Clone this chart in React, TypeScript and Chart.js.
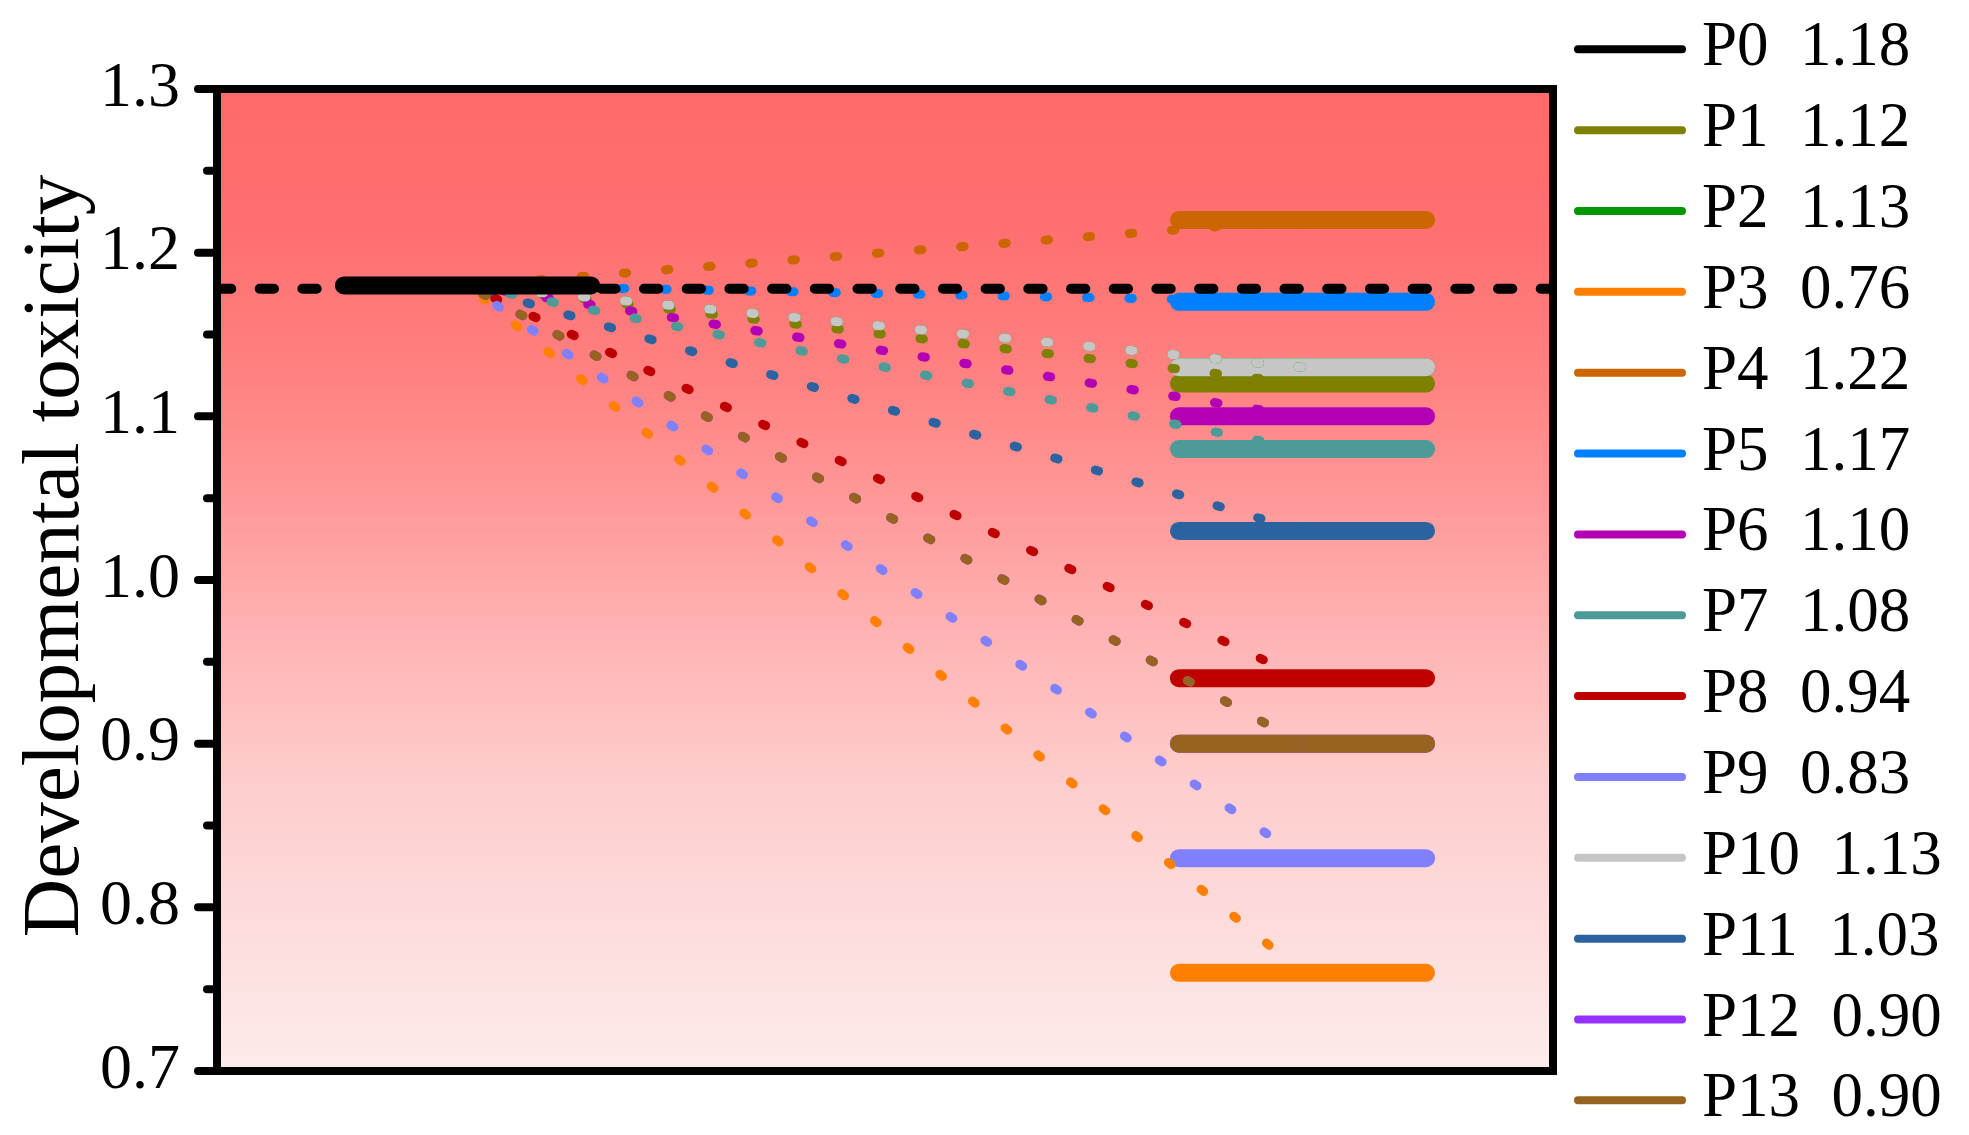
import React, { useEffect, useRef } from 'react';
import { Chart, registerables } from 'chart.js';

Chart.register(...registerables);

// ---------------- data ----------------
const seriesNames = ['P0', 'P1', 'P2', 'P3', 'P4', 'P5', 'P6', 'P7', 'P8', 'P9', 'P10', 'P11', 'P12', 'P13'];
const seriesValues = [1.18, 1.12, 1.13, 0.76, 1.22, 1.17, 1.10, 1.08, 0.94, 0.83, 1.13, 1.03, 0.90, 0.90];
const seriesColors = [
  '#000000', '#808000', '#009600', '#FF8000', '#CC6600', '#0080FF', '#B400B4',
  '#4D9B98', '#BE0000', '#8080FF', '#C6C6C6', '#2B63A0', '#9632FF', '#966420',
];
// stage 1 = parent compound (P0), stage 2 = derivatives (P1..P13)
const stagePositions = [1, 2];
const referenceLevel = 1.178;
const yMin = 0.7;
const yMax = 1.3;
const yStep = 0.1;
const yTitle = 'Developmental toxicity';

// ---------------- style ----------------
const FONT = '"Liberation Serif", "Times New Roman", serif';
const BAR_HALF = 0.148;
const X_MIN = 0.7;
const X_MAX = 2.3;

function buildDatasets() {
  const seq: any[] = [];
  const v0 = seriesValues[0];
  // derivative level bars
  for (let i = 1; i < seriesValues.length; i++) {
    seq.push({
      label: seriesNames[i] + ' bar',
      data: [
        { x: stagePositions[1] - BAR_HALF, y: seriesValues[i] },
        { x: stagePositions[1] + BAR_HALF, y: seriesValues[i] },
      ],
      borderColor: seriesColors[i],
      borderWidth: 18,
      borderCapStyle: 'round',
    });
  }
  // dotted connectors
  for (let i = 1; i < seriesValues.length; i++) {
    seq.push({
      label: seriesNames[i] + ' link',
      data: [
        { x: stagePositions[1], y: seriesValues[i] },
        { x: stagePositions[0], y: v0 },
      ],
      borderColor: seriesColors[i],
      borderWidth: 9,
      borderCapStyle: 'round',
      borderDash: [3.5, 38.8],
      borderDashOffset: -1,
    });
  }
  // parent bar
  seq.push({
    label: seriesNames[0] + ' bar',
    data: [
      { x: stagePositions[0] - BAR_HALF, y: v0 },
      { x: stagePositions[0] + BAR_HALF, y: v0 },
    ],
    borderColor: seriesColors[0],
    borderWidth: 18,
    borderCapStyle: 'round',
  });
  // reference dashed line
  seq.push({
    label: 'reference',
    data: [
      { x: X_MIN, y: referenceLevel },
      { x: X_MAX, y: referenceLevel },
    ],
    borderColor: '#000000',
    borderWidth: 10,
    borderCapStyle: 'round',
    borderDash: [14.3, 28.4],
  });
  const n = seq.length;
  return seq.map((d, k) => ({
    ...d,
    type: 'line',
    order: n - k,
    pointRadius: 0,
    pointHoverRadius: 0,
    tension: 0,
    fill: false,
  }));
}

const decorPlugin = {
  id: 'decor',
  beforeDraw(chart: any) {
    const { ctx, width, height } = chart;
    ctx.save();
    ctx.fillStyle = '#ffffff';
    ctx.fillRect(0, 0, width, height);
    ctx.restore();
  },
  beforeDatasetsDraw(chart: any) {
    const { ctx, chartArea } = chart;
    const { left, top, right, bottom } = chartArea;
    const g = ctx.createLinearGradient(0, top, 0, bottom);
    g.addColorStop(0.0, 'rgb(255,106,106)');
    g.addColorStop(0.15, 'rgb(255,112,112)');
    g.addColorStop(0.3, 'rgb(255,130,130)');
    g.addColorStop(0.45, 'rgb(255,158,158)');
    g.addColorStop(0.55, 'rgb(255,178,178)');
    g.addColorStop(0.7, 'rgb(254,204,204)');
    g.addColorStop(0.85, 'rgb(253,220,220)');
    g.addColorStop(1.0, 'rgb(253,235,235)');
    ctx.save();
    ctx.fillStyle = g;
    ctx.fillRect(left, top, right - left, bottom - top);
    ctx.restore();
  },
  afterDatasetsDraw(chart: any) {
    const { ctx, chartArea } = chart;
    const { left, top, right, bottom } = chartArea;
    const yScale = chart.scales.y;
    ctx.save();
    ctx.strokeStyle = '#000';
    ctx.lineWidth = 8;
    ctx.lineJoin = 'miter';
    ctx.strokeRect(left, top, right - left, bottom - top);
    // major and minor ticks
    ctx.lineCap = 'round';
    const ticks = yScale.ticks.map((t: any) => t.value);
    ticks.forEach((v: number) => {
      const y = yScale.getPixelForValue(v);
      ctx.beginPath();
      ctx.moveTo(left - 19, y);
      ctx.lineTo(left, y);
      ctx.stroke();
    });
    for (let i = 0; i < ticks.length - 1; i++) {
      const y = yScale.getPixelForValue((ticks[i] + ticks[i + 1]) / 2);
      ctx.beginPath();
      ctx.moveTo(left - 10, y);
      ctx.lineTo(left, y);
      ctx.stroke();
    }
    ctx.restore();
  },
  afterDraw(chart: any) {
    const { ctx, chartArea } = chart;
    ctx.save();
    // y axis title
    ctx.fillStyle = '#000';
    ctx.font = `81px ${FONT}`;
    ctx.textAlign = 'center';
    ctx.textBaseline = 'alphabetic';
    ctx.translate(78, 556);
    ctx.rotate(-Math.PI / 2);
    ctx.fillText(yTitle, 0, 0);
    ctx.restore();

    // legend
    ctx.save();
    const rowTop = 49.3;
    const rowGap = 80.85;
    ctx.font = `63px ${FONT}`;
    ctx.textAlign = 'left';
    ctx.textBaseline = 'alphabetic';
    ctx.lineCap = 'round';
    ctx.lineWidth = 8;
    seriesNames.forEach((name, i) => {
      const y = rowTop + i * rowGap;
      ctx.strokeStyle = seriesColors[i];
      ctx.beginPath();
      ctx.moveTo(chartArea.right + 25, y);
      ctx.lineTo(chartArea.right + 129, y);
      ctx.stroke();
      ctx.fillStyle = '#000';
      ctx.fillText(`${name}  ${seriesValues[i].toFixed(2)}`, chartArea.right + 149, y + 16);
    });
    ctx.restore();
  },
};

export default function App() {
  const canvasRef = useRef<HTMLCanvasElement | null>(null);

  useEffect(() => {
    document.body.style.margin = '0';
    const canvas = canvasRef.current;
    if (!canvas) return;
    const chart = new Chart(canvas, {
      type: 'line',
      data: { datasets: buildDatasets() as any },
      options: {
        responsive: false,
        animation: false,
        devicePixelRatio: 1,
        events: [],
        layout: { padding: { top: 89, bottom: 64, left: 0, right: 416 } },
        plugins: {
          legend: { display: false },
          tooltip: { enabled: false },
        },
        scales: {
          x: {
            type: 'linear',
            min: X_MIN,
            max: X_MAX,
            display: false,
          },
          y: {
            type: 'linear',
            min: yMin,
            max: yMax,
            afterFit: (scale: any) => {
              scale.width = 217;
              scale.paddingTop = 0;
              scale.paddingBottom = 0;
            },
            grid: { display: false, drawTicks: false },
            border: { display: false },
            ticks: {
              stepSize: yStep,
              autoSkip: false,
              padding: 37,
              color: '#000',
              font: { family: FONT, size: 64 },
              callback: (v: any) => Number(v).toFixed(1),
            },
          },
        },
      } as any,
      plugins: [decorPlugin],
    });
    return () => chart.destroy();
  }, []);

  return (
    <canvas
      ref={canvasRef}
      width={1969}
      height={1135}
      style={{ display: 'block', width: '1969px', height: '1135px' }}
    />
  );
}
